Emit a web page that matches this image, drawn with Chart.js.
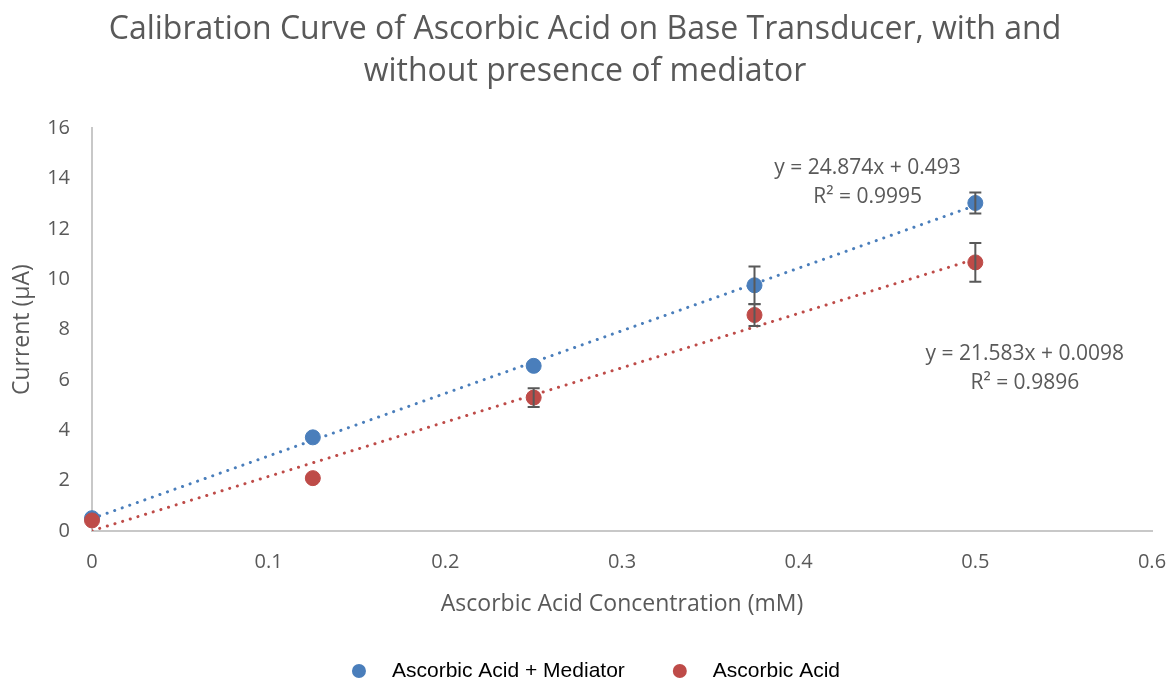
<!DOCTYPE html>
<html>
<head>
<meta charset="utf-8">
<script src="https://cdn.jsdelivr.net/npm/chart.js"></script>
<style>
html, body { margin: 0; background: #fff; }
#wrap { width: 1170px; height: 683px; }
</style>
</head>
<body>
<div id="wrap"><canvas id="chart"></canvas></div>
<script>
/* measured points */
const concentrations = [0, 0.125, 0.25, 0.375, 0.5];
const mediatorCurrent = [0.51, 3.72, 6.56, 9.76, 13.03];
const mediatorError = [0, 0, 0, 0.75, 0.42];
const acidCurrent = [0.42, 2.1, 5.3, 8.58, 10.67];
const acidError = [0, 0, 0.37, 0.44, 0.77];

/* linear fits */
const mediatorFit = [24.874, 0.493];
const acidFit = [21.583, 0.0098];
const mediatorLabel = ["y = 24.874x + 0.493", "R² = 0.9995"];
const acidLabel = ["y = 21.583x + 0.0098", "R² = 0.9896"];
const mediatorLabelAt = [0.439, 14.4];
const acidLabelAt = [0.528, 7.05];

const xTicks = [0, 0.1, 0.2, 0.3, 0.4, 0.5, 0.6];
const seriesNames = ["Ascorbic Acid + Mediator", "Ascorbic Acid"];

const blue = "#4a7ebb";
const red = "#be4b48";
const grey = "#595959";
const font = "'Open Sans', sans-serif";

function points(ys){
  return concentrations.map((x, i) => ({x: x, y: ys[i]}));
}

function fitLine(fit){
  let xs = [concentrations[0], concentrations[concentrations.length - 1]];
  return xs.map(x => ({x: x, y: fit[0] * x + fit[1]}));
}

/* error bars, trendline equations and the legend row */
const extras = {
  id: "extras",
  afterDatasetsDraw(chart){
    const ctx = chart.ctx;
    const xs = chart.scales.x, ys = chart.scales.y;

    ctx.save();
    ctx.strokeStyle = grey;
    ctx.lineWidth = 2;
    [[mediatorCurrent, mediatorError], [acidCurrent, acidError]].forEach(pair => {
      concentrations.forEach((c, i) => {
        let e = pair[1][i];
        if(!e) return;
        let px = xs.getPixelForValue(c);
        let top = ys.getPixelForValue(pair[0][i] + e);
        let bot = ys.getPixelForValue(pair[0][i] - e);
        ctx.beginPath();
        ctx.moveTo(px, top); ctx.lineTo(px, bot);
        ctx.moveTo(px - 6, top); ctx.lineTo(px + 6, top);
        ctx.moveTo(px - 6, bot); ctx.lineTo(px + 6, bot);
        ctx.stroke();
      });
    });

    ctx.fillStyle = grey;
    ctx.font = "21px " + font;
    ctx.textAlign = "center";
    ctx.textBaseline = "middle";
    [[mediatorLabel, mediatorLabelAt], [acidLabel, acidLabelAt]].forEach(pair => {
      let px = xs.getPixelForValue(pair[1][0]);
      let py = ys.getPixelForValue(pair[1][1]);
      ctx.fillText(pair[0][0], px, py);
      ctx.fillText(pair[0][1], px, py + 29);
    });

    /* legend */
    ctx.font = "21px 'Liberation Sans', Arial, sans-serif";
    ctx.textAlign = "left";
    let colors = [blue, red];
    let widths = seriesNames.map(t => ctx.measureText(t).width);
    let total = 7 + 34 + widths[0] + 55 + 34 + widths[1];
    let x = chart.width / 2 + 12 - total / 2 + 7;
    let y = chart.height - 12;
    seriesNames.forEach((name, i) => {
      ctx.fillStyle = colors[i];
      ctx.beginPath();
      ctx.arc(x, y, 7, 0, Math.PI * 2);
      ctx.fill();
      ctx.fillStyle = "#000";
      ctx.fillText(name, x + 33, y);
      x += 33 + widths[i] + 55;
    });
    ctx.restore();
  }
};

new Chart(document.getElementById("chart"), {
  type: "scatter",
  data: {
    datasets: [
      {
        label: seriesNames[0],
        data: points(mediatorCurrent),
        backgroundColor: blue,
        borderColor: blue,
        pointRadius: 7.5,
        pointHoverRadius: 7.5,
        clip: false,
        order: 1
      },
      {
        label: seriesNames[1],
        data: points(acidCurrent),
        backgroundColor: red,
        borderColor: red,
        pointRadius: 7.5,
        pointHoverRadius: 7.5,
        clip: false,
        order: 0
      },
      {
        label: "fit1",
        data: fitLine(mediatorFit),
        showLine: true,
        pointRadius: 0,
        borderColor: blue,
        borderWidth: 3,
        borderDash: [0.1, 7.9],
        borderCapStyle: "round",
        order: 2
      },
      {
        label: "fit2",
        data: fitLine(acidFit),
        showLine: true,
        pointRadius: 0,
        borderColor: red,
        borderWidth: 3,
        borderDash: [0.1, 7.9],
        borderCapStyle: "round",
        order: 2
      }
    ]
  },
  options: {
    responsive: true,
    maintainAspectRatio: false,
    animation: false,
    layout: { padding: { left: 0, right: 0, top: 0, bottom: 65 } },
    plugins: {
      title: {
        display: true,
        text: ["Calibration Curve of Ascorbic Acid on Base Transducer, with and", "without presence of mediator"],
        color: grey,
        font: { family: font, size: 32, weight: "normal", lineHeight: 1.3 },
        padding: { top: 9, bottom: 36 }
      },
      legend: { display: false },
      tooltip: { enabled: false }
    },
    scales: {
      x: {
        type: "linear",
        min: 0,
        max: 0.6,
        afterBuildTicks: axis => { axis.ticks = xTicks.map(v => ({value: v})); },
        afterFit: axis => { axis.height = 87; axis.paddingRight = 18; },
        grid: { display: false, drawTicks: false },
        border: { color: "#c8c8c8", width: 2 },
        ticks: { color: grey, font: { family: font, size: 20 }, padding: 19 },
        title: { display: true, text: "Ascorbic Acid Concentration (mM)", color: grey, font: { family: font, size: 23 }, padding: { top: 14, bottom: 0 } }
      },
      y: {
        min: 0,
        max: 16,
        afterFit: axis => { axis.width = 92; },
        grid: { display: false, drawTicks: false },
        border: { color: "#c8c8c8", width: 2 },
        ticks: { stepSize: 2, color: grey, font: { family: font, size: 20 }, padding: 22 },
        title: { display: true, text: "Current (µA)", color: grey, font: { family: font, size: 23 }, padding: { top: 9, bottom: 0 } }
      }
    }
  },
  plugins: [extras]
});
</script>
</body>
</html>
